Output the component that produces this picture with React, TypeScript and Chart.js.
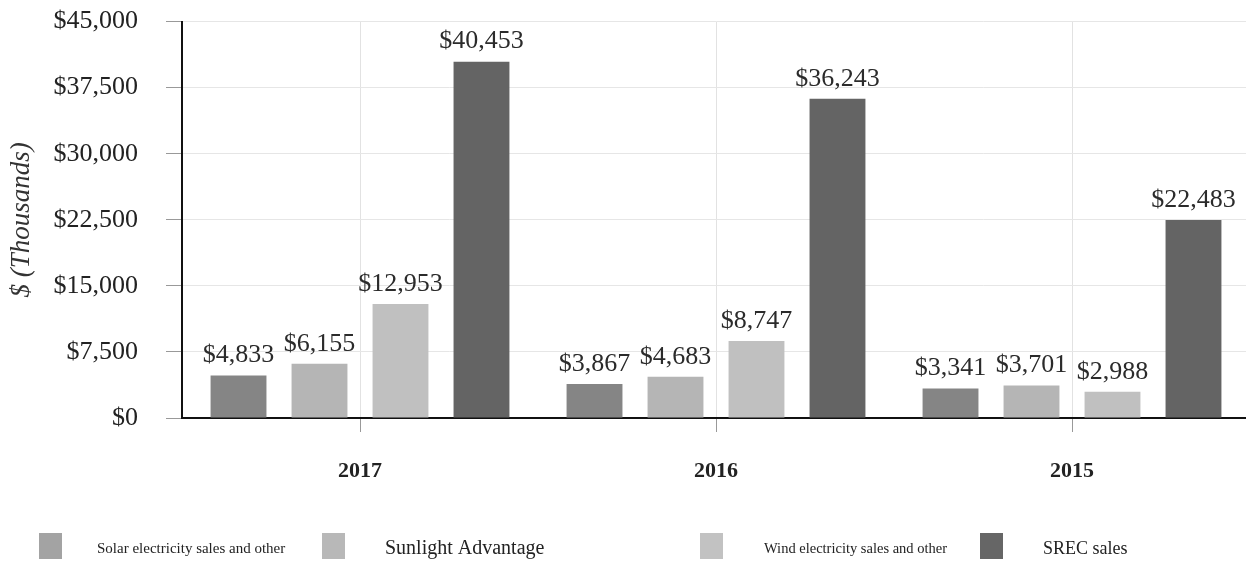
import React, { useEffect, useRef } from "react";
import { Chart, registerables } from "chart.js";

Chart.register(...registerables);

const categories = ["2017", "2016", "2015"];
const seriesNames = [
  "Solar electricity sales and other",
  "Sunlight Advantage",
  "Wind electricity sales and other",
  "SREC sales",
];
const solarValues = [4833, 3867, 3341];
const sunlightValues = [6155, 4683, 3701];
const windValues = [12953, 8747, 2988];
const srecValues = [40453, 36243, 22483];
const barColors = ["#858585", "#b5b5b5", "#c0c0c0", "#646464"];
const legendColors = ["#a3a3a3", "#b8b8b8", "#c2c2c2", "#666666"];

const SERIF = '"Liberation Serif", "DejaVu Serif", serif';
const fmt = (v: number) => "$" + v.toLocaleString("en-US");

const SHIFT = 22;

const legendLayout = [
  { box: 39, text: 97, size: 15 },
  { box: 322, text: 385, size: 20 },
  { box: 700, text: 764, size: 14.5 },
  { box: 980, text: 1043, size: 18 },
];

const valueLabels = {
  id: "valueLabels",
  afterDatasetsDraw(chart: any) {
    const ctx = chart.ctx;
    ctx.save();
    ctx.font = `26px ${SERIF}`;
    ctx.fillStyle = "#2b2b2b";
    ctx.textAlign = "center";
    ctx.textBaseline = "bottom";
    chart.data.datasets.forEach((ds: any, i: number) => {
      const meta = chart.getDatasetMeta(i);
      meta.data.forEach((bar: any, j: number) => {
        ctx.fillText(fmt(ds.data[j]), bar.x, bar.y - 7);
      });
    });
    ctx.restore();
  },
};

const customLegend = {
  id: "customLegend",
  afterDraw(chart: any) {
    const ctx = chart.ctx;
    ctx.save();
    chart.data.datasets.forEach((ds: any, i: number) => {
      const l = legendLayout[i];
      ctx.fillStyle = legendColors[i];
      ctx.fillRect(l.box, 533 + SHIFT, 23, 26);
      ctx.fillStyle = "#222";
      ctx.font = `${l.size}px ${SERIF}`;
      ctx.textAlign = "left";
      ctx.textBaseline = "middle";
      ctx.fillText(ds.label, l.text, 549 + SHIFT);
    });
    ctx.restore();
  },
};

export default function App() {
  const ref = useRef<HTMLCanvasElement>(null);
  useEffect(() => {
    document.body.style.margin = "0";
    document.documentElement.style.overflow = "hidden";
    document.body.style.overflow = "hidden";
    const datasets = [solarValues, sunlightValues, windValues, srecValues].map((d, i) => ({
      label: seriesNames[i],
      data: d,
      backgroundColor: barColors[i],
      borderWidth: 0,
      barPercentage: 0.69,
      categoryPercentage: 0.91,
    }));
    const chart = new Chart(ref.current!, {
      type: "bar",
      data: { labels: categories, datasets },
      options: {
        animation: false,
        responsive: false,
        layout: { padding: { top: 0, right: 0, left: 0, bottom: 0 } },
        plugins: { legend: { display: false }, tooltip: { enabled: false } },
        scales: {
          x: {
            grid: { offset: false, color: "#e2e2e2", tickLength: 14, tickColor: "#999" },
            border: { color: "#111", width: 2 },
            ticks: { color: "#222", font: { family: SERIF, size: 22, weight: "bold" }, padding: 26 },
            afterFit: (s: any) => { s.height = 166; },
          },
          y: {
            min: 0,
            max: 45000,
            ticks: {
              stepSize: 7500,
              color: "#222",
              font: { family: SERIF, size: 26 },
              padding: 28,
              callback: (v: any) => fmt(Number(v)),
            },
            grid: { color: "#e6e6e6", tickLength: 16, tickColor: "#999" },
            border: { color: "#111", width: 2 },
            title: {
              display: true,
              text: "$ (Thousands)",
              color: "#333",
              font: { family: SERIF, size: 27, style: "italic" },
              padding: { top: 6, bottom: 0 },
            },
            afterFit: (s: any) => { s.width = 182; },
          },
        },
      },
      plugins: [valueLabels, customLegend],
    });
    return () => chart.destroy();
  }, []);
  return (
    <canvas
      ref={ref}
      width={1250}
      height={584 + SHIFT}
      style={{ display: "block", marginTop: -SHIFT }}
    />
  );
}
